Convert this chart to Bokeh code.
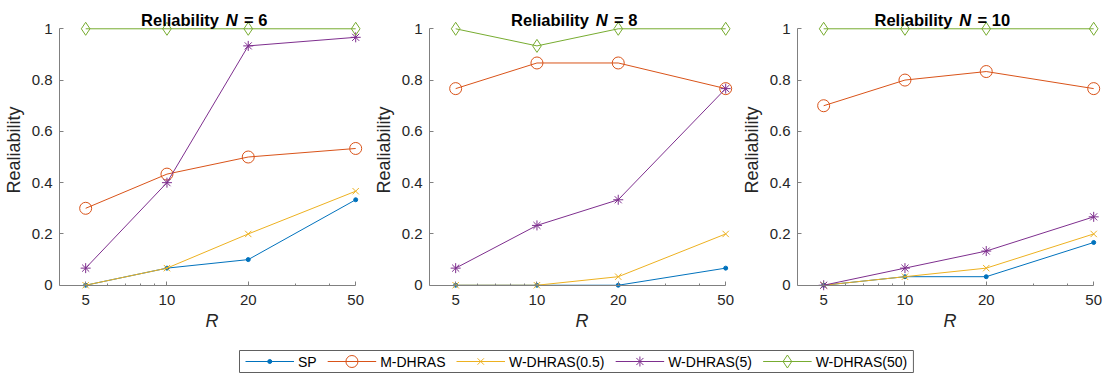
from bokeh.plotting import figure
from bokeh.layouts import column, row
from bokeh.models import Range1d, FixedTicker, LogAxis, CustomJSTickFormatter
from bokeh.core.properties import value
from bokeh.embed import file_html
from bokeh.resources import INLINE

# ---------------- data ----------------
R = [5, 10, 20, 50]
N_values = [6, 8, 10]
series_names = ["SP", "M-DHRAS", "W-DHRAS(0.5)", "W-DHRAS(5)", "W-DHRAS(50)"]
x_tick_labels = ["5", "10", "20", "50"]
y_ticks = [0, 0.2, 0.4, 0.6, 0.8, 1.0]

# N = 6
sp_n6 = [0.0, 0.0667, 0.1, 0.3333]
m_dhras_n6 = [0.3, 0.4333, 0.5, 0.5333]
w05_n6 = [0.0, 0.0667, 0.2, 0.3667]
w5_n6 = [0.0667, 0.4, 0.9333, 0.9667]
w50_n6 = [1.0, 1.0, 1.0, 1.0]

# N = 8
sp_n8 = [0.0, 0.0, 0.0, 0.0667]
m_dhras_n8 = [0.7667, 0.8667, 0.8667, 0.7667]
w05_n8 = [0.0, 0.0, 0.0333, 0.2]
w5_n8 = [0.0667, 0.2333, 0.3333, 0.7667]
w50_n8 = [1.0, 0.9333, 1.0, 1.0]

# N = 10
sp_n10 = [0.0, 0.0333, 0.0333, 0.1667]
m_dhras_n10 = [0.7, 0.8, 0.8333, 0.7667]
w05_n10 = [0.0, 0.0333, 0.0667, 0.2]
w5_n10 = [0.0, 0.0667, 0.1333, 0.2667]
w50_n10 = [1.0, 1.0, 1.0, 1.0]

panel_data = {
    6: [sp_n6, m_dhras_n6, w05_n6, w5_n6, w50_n6],
    8: [sp_n8, m_dhras_n8, w05_n8, w5_n8, w50_n8],
    10: [sp_n10, m_dhras_n10, w05_n10, w5_n10, w50_n10],
}

# ---------------- styles ----------------
colors = ["#0072BD", "#D95319", "#EDB120", "#7E2F8E", "#77AC30"]
marker_specs = [
    dict(marker="circle", size=4, filled=True),
    dict(marker="circle", size=12, filled=False),
    dict(marker="x", size=9, filled=False),
    dict(marker="asterisk", size=10, filled=False),
    dict(marker="diamond", size=13, filled=False),
]
FONT = "Liberation Sans"
AX_COLOR = "#808080"
TXT_COLOR = "#262626"

X_START, X_END = 4, 53.9
Y_BOTTOM, Y_TOP = -0.04, 1.0947
PX_PER_UNIT = 256.7
FIG_H = 340
FRAME_TOP = 4
FRAME_H = round((Y_TOP - Y_BOTTOM) * PX_PER_UNIT)
TICK_FMT = "return String(Number(tick.toFixed(2)));"


def add_markers(p, x, y, color, spec):
    return p.scatter(x, y, marker=spec["marker"], size=spec["size"], line_color=color,
                     line_width=1, fill_color=color if spec["filled"] else None)


def style_axis(ax):
    ax.axis_line_color = AX_COLOR
    ax.axis_line_width = 1
    ax.major_tick_line_color = AX_COLOR
    ax.minor_tick_line_color = AX_COLOR
    ax.major_tick_in = 4
    ax.major_tick_out = 0
    ax.minor_tick_in = 2
    ax.minor_tick_out = 0
    ax.major_label_text_font = FONT
    ax.major_label_text_font_size = "15px"
    ax.major_label_text_color = TXT_COLOR
    ax.axis_label_text_font = FONT
    ax.axis_label_text_font_size = "18px"
    ax.axis_label_text_color = TXT_COLOR


def make_panel(n, width, left_border, right_border):
    p = figure(width=width, height=FIG_H, x_axis_type="log",
               x_range=Range1d(X_START, X_END), y_range=Range1d(Y_BOTTOM, Y_TOP),
               output_backend="svg", toolbar_location=None,
               min_border_left=left_border, min_border_right=right_border,
               min_border_top=FRAME_TOP, min_border_bottom=FIG_H - FRAME_TOP - FRAME_H)
    p.title.visible = False
    p.xgrid.visible = False
    p.ygrid.visible = False
    p.outline_line_color = None
    p.background_fill_color = "white"
    p.border_fill_color = "white"

    x_ticker = FixedTicker(ticks=R, minor_ticks=[6, 7, 8, 9, 30, 40])

    # bottom axis: only tick labels and the italic "R" label
    xa = p.xaxis[0]
    style_axis(xa)
    xa.ticker = x_ticker
    xa.formatter = CustomJSTickFormatter(code=TICK_FMT)
    xa.major_label_overrides = {r: lab for r, lab in zip(R, x_tick_labels)}
    xa.axis_line_color = None
    xa.major_tick_line_color = None
    xa.minor_tick_line_color = None
    xa.major_tick_in = 0
    xa.minor_tick_in = 0
    xa.major_label_standoff = -1
    xa.axis_label = "R"
    xa.axis_label_text_font_style = "italic"
    xa.axis_label_standoff = 3

    # axis line + inward ticks sitting exactly at y = 0
    x0 = LogAxis(ticker=x_ticker, fixed_location=0, bounds=(4, 50),
                 major_label_overrides={r: "" for r in R})
    style_axis(x0)
    x0.major_label_text_font_size = "1px"
    x0.major_label_standoff = 0
    p.add_layout(x0, "below")

    ya = p.yaxis[0]
    style_axis(ya)
    ya.ticker = FixedTicker(ticks=y_ticks)
    ya.formatter = CustomJSTickFormatter(code=TICK_FMT)
    ya.bounds = (0, 1)
    ya.minor_tick_line_color = None
    ya.major_label_standoff = 7
    ya.axis_label = "Realiability"
    ya.axis_label_text_font_style = "normal"
    ya.axis_label_standoff = 5

    for vals, color, spec in zip(panel_data[n], colors, marker_specs):
        p.line(R, vals, line_color=color, line_width=1)
        add_markers(p, R, vals, color, spec)

    # title pieces (bold, with italic N)
    cx = (X_START * 50) ** 0.5
    ty = 1.036
    total_w = 135 + 9.2 * (len(str(n)) - 1)
    left = -total_w / 2 + 1
    pieces = [("Reliability", "bold", left),
              ("N", "bold italic", left + 84.7),
              ("= %d" % n, "bold", left + 103)]
    for txt, style, off in pieces:
        p.text(x=[cx], y=[ty], text=[txt], x_offset=off,
               text_font=value(FONT), text_font_style=style, text_font_size="16.5px",
               text_align="left", text_baseline="alphabetic", text_color="black")
    return p


p1 = make_panel(6, 368, 59, 4)
p2 = make_panel(8, 368, 61, 2)
p3 = make_panel(10, 369, 61, 3)

# ---------------- legend strip (pixel-mapped figure) ----------------
LEG_H = 375 - FIG_H
pl = figure(width=1105, height=LEG_H, x_range=Range1d(0, 1105), y_range=Range1d(0, LEG_H),
            output_backend="svg", toolbar_location=None,
            x_axis_location=None, y_axis_location=None,
            min_border=0, min_border_left=0, min_border_right=0, min_border_top=0, min_border_bottom=0)
pl.title.visible = False
pl.xgrid.visible = False
pl.ygrid.visible = False
pl.outline_line_color = None

# Arial / Liberation Sans advance widths (per 1000 em) for legend layout
CHAR_W = {"S": 667, "P": 667, "M": 833, "-": 333, "D": 722, "H": 722, "R": 722, "A": 667,
          "W": 944, "(": 333, ")": 333, ".": 278}
LEG_FS = 14.0
LINE_LEN, TXT_GAP, ITEM_GAP, BOX_PAD = 48.5, 4.0, 11.0, 6.0


def text_w(s):
    return sum(CHAR_W.get(c, 556) for c in s) * LEG_FS / 1000.0


box_left = 239.0
box_bottom, box_top = 3.0, 25.0
yc = (box_bottom + box_top) / 2
xs = box_left + BOX_PAD
layout_items = []
for name in series_names:
    layout_items.append((xs, xs + LINE_LEN, xs + LINE_LEN + TXT_GAP))
    xs = xs + LINE_LEN + TXT_GAP + text_w(name) + ITEM_GAP
box_right = xs - ITEM_GAP + BOX_PAD

pl.quad(left=[box_left], right=[box_right], bottom=[box_bottom], top=[box_top],
        fill_color="white", line_color="#606060", line_width=1)
for (l0, l1, tx), name, color, spec in zip(layout_items, series_names, colors, marker_specs):
    pl.line([l0, l1], [yc, yc], line_color=color, line_width=1)
    add_markers(pl, [(l0 + l1) / 2], [yc], color, spec)
    pl.text(x=[tx], y=[yc], text=[name], text_font=value(FONT), text_font_size="%.1fpx" % LEG_FS,
            text_color="black", text_align="left", text_baseline="middle")

layout = column(row(p1, p2, p3, spacing=0), pl, spacing=0)

open("out.html", "w").write(file_html(layout, INLINE))
